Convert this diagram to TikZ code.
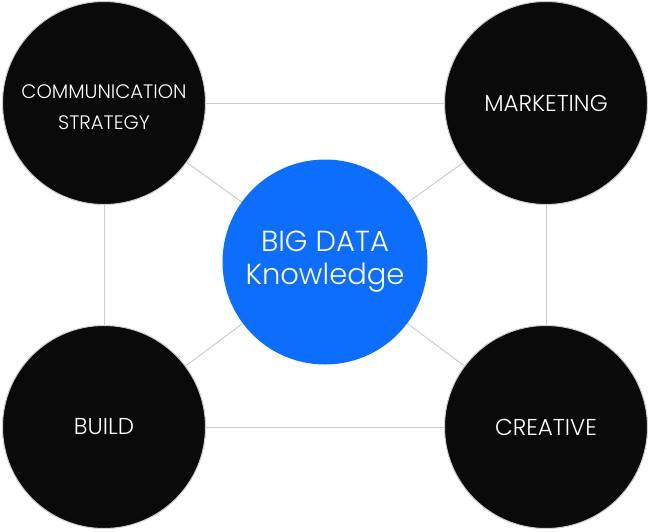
\documentclass[tikz,border=0pt]{standalone}
\usepackage{fontspec}
\setmainfont{Poppins}[UprightFont={* Light}]
\usetikzlibrary{backgrounds}
\definecolor{bdblue}{RGB}{13,110,253}
\definecolor{bdblack}{RGB}{10,10,10}
\definecolor{bdline}{RGB}{204,204,204}
\begin{document}
\begin{tikzpicture}[x=1pt,y=-1pt,
    bc/.style={circle,fill=bdblack,draw=bdline,line width=1pt,minimum size=203pt,inner sep=0pt},
    lb/.style={text=white,align=center,inner sep=0pt},
    hub/.style={circle,fill=bdblue,minimum size=205pt,inner sep=0pt,
        text=white,align=center,font=\fontsize{29}{33}\selectfont},
    ln/.style={draw=bdline,line width=1pt}]
    \useasboundingbox (0,0) rectangle (650,531);
    \node[hub] (big) at (325,262) {BIG DATA\\Knowledge};
    \foreach \n/\x/\y/\t/\f/\s in {comm/104/103/{COMMUNICATION\\STRATEGY}/19.5/-4,
        mark/546/103/MARKETING/23/0,build/104/427/BUILD/23/0,crea/546/427/CREATIVE/23/0} {
        \node[bc] (\n) at (\x,\y) {};
        \node[lb,font=\fontsize{\f}{31}\selectfont] (\n-t) at ([yshift=\s pt]\n.center) {\t};
    }
    \begin{scope}[on background layer]
        \draw[ln] (comm) -- (mark) -- (crea) -- (build) -- (comm);
        \foreach \n in {comm,mark,build,crea}
            \draw[ln] (\n.center) -- (big.center);
    \end{scope}
\end{tikzpicture}
\end{document}
